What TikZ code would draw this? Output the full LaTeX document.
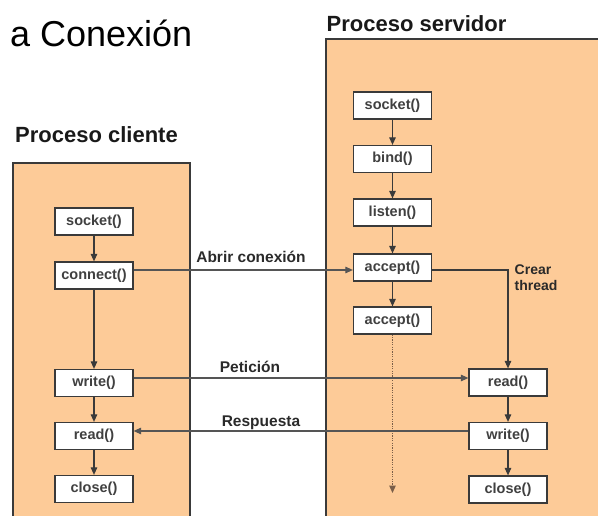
\documentclass[tikz,border=0pt]{standalone}
\usepackage{fontspec}
\setmainfont{Liberation Sans}
\usetikzlibrary{arrows.meta}
\definecolor{peach}{HTML}{FDCB98}
\definecolor{boxline}{HTML}{3A3A3A}
\definecolor{boxtext}{HTML}{404040}
\definecolor{arrowline}{HTML}{3A3A3A}
\definecolor{hline}{HTML}{555555}
\definecolor{labeltext}{HTML}{2A2A2A}
\definecolor{dotcol}{HTML}{7A5E48}
\begin{document}
\begin{tikzpicture}[x=1pt,y=-1pt,
  proc/.style={draw=boxline, line width=1.3pt, fill=peach},
  fn/.style={draw=boxline, line width=1.2pt, fill=white, minimum width=78pt,
    minimum height=27pt, inner sep=0pt,
    font=\fontsize{14.5}{16}\selectfont\bfseries, text=boxtext},
  flow/.style={draw=arrowline, line width=1.1pt, -{Triangle[length=7.5pt,width=6.5pt]}},
  hflow/.style={draw=hline, line width=1.1pt, -{Triangle[length=7.5pt,width=6.5pt]}},
  lbl/.style={font=\fontsize{15.5}{17}\selectfont\bfseries, text=labeltext, inner sep=0pt, anchor=base},
  title/.style={font=\fontsize{22}{24}\selectfont\bfseries, text=black!90, inner sep=0pt, anchor=base west},
  dotline/.style={draw=dotcol, line width=1.3pt, dash pattern=on 1.2pt off 1.2pt, -{Triangle[length=7.5pt,width=6.5pt]}}
]
\useasboundingbox (0,0) rectangle (598,516);
\clip (0,0) rectangle (598,516);

% titles
\node[inner sep=0pt, anchor=base west, font=\fontsize{36}{40}\selectfont, text=black] (maintitle) at (10,47) {a Conexión};
\node[title] (tcliente) at (15,143) {Proceso cliente};
\node[title] (tservidor) at (326.5,32) {Proceso servidor};

% process areas
\path[proc] (13,163) rectangle (190,530);
\path[proc] (326,39) rectangle (610,530);

% client
\node[fn] (csocket) at (94,221.5) {socket()};
\node[fn] (cconnect) at (94,275.5) {connect()};
\node[fn] (cwrite) at (94,383) {write()};
\node[fn] (cread) at (94,436) {read()};
\node[fn] (cclose) at (94,489) {close()};

% server
\node[fn] (ssocket) at (392.5,105.5) {socket()};
\node[fn] (sbind) at (392.5,159) {bind()};
\node[fn] (slisten) at (392.5,212.5) {listen()};
\node[fn] (saccept) at (392.5,267.5) {accept()};
\node[fn] (saccepttwo) at (392.5,320.5) {accept()};
\node[fn] (sread) at (508,382.5) {read()};
\node[fn] (swrite) at (508,436) {write()};
\node[fn] (sclose) at (508,489.5) {close()};

% dotted continuation
\coordinate (dend) at (392.5,493);
\draw[dotline] (saccepttwo.south) -- (dend);

% vertical flows
\draw[flow] (csocket) -- (cconnect);
\draw[flow] (cconnect) -- (cwrite);
\draw[flow] (cwrite) -- (cread);
\draw[flow] (cread) -- (cclose);
\draw[flow] (ssocket) -- (sbind);
\draw[flow] (sbind) -- (slisten);
\draw[flow] (slisten) -- (saccept);
\draw[flow] (saccept) -- (saccepttwo);
\draw[flow] (sread) -- (swrite);
\draw[flow] (swrite) -- (sclose);

% horizontal messages
\coordinate (yopen) at ([yshift=-2.5pt]saccept.west);
\coordinate (yreq) at ([yshift=4.5pt]sread.west);
\coordinate (yresp) at ([yshift=5pt]swrite.west);
\draw[hflow] (cconnect.east |- yopen) -- (yopen);
\draw[hflow] (cwrite.east |- yreq) -- (yreq);
\draw[hflow] (yresp) -- (cread.east |- yresp);
\draw[flow] (yopen -| saccept.east) -| (sread.north);

% labels
\node[lbl] (lopen) at (251,263) {Abrir conexión};
\node[lbl] (lreq) at (250,372) {Petición};
\node[lbl] (lresp) at (261,426) {Respuesta};
\node[inner sep=0pt, anchor=north west, align=left, font=\fontsize{14}{15.5}\selectfont\bfseries, text=labeltext] (lthread) at (514.5,265) {Crear\\thread};
\end{tikzpicture}
\end{document}
